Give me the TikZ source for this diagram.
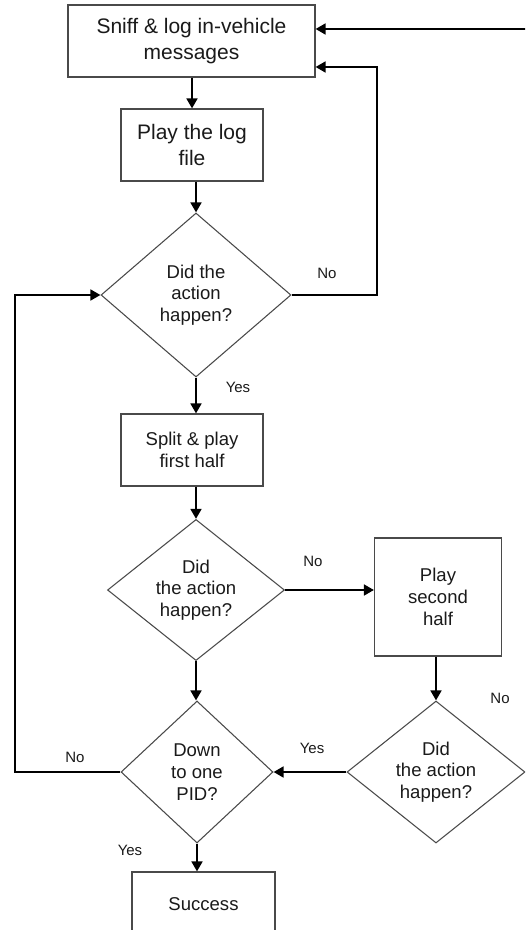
\documentclass[tikz,border=0pt]{standalone}
\usepackage{fontspec}
\setmainfont{Liberation Sans}
\usetikzlibrary{arrows.meta,shapes.geometric}
\definecolor{FlowInk}{HTML}{1A1A1A}
\definecolor{FlowEdge}{HTML}{4A4A4A}

\begin{document}
\begin{tikzpicture}[
    x=0.75pt, y=-0.75pt,
    stepbox/.style={
        draw=FlowEdge,
        line width=0.8pt,
        fill=white,
        align=center,
        text=FlowInk,
        inner sep=1pt,
        font=\fontsize{13.9}{16.3}\selectfont
    },
    big text/.style={font=\fontsize{15.75}{19.5}\selectfont},
    decision/.style={
        diamond,
        draw=FlowEdge,
        line width=0.8pt,
        fill=white,
        align=center,
        text=FlowInk,
        inner sep=0pt,
        font=\fontsize{13.9}{16.3}\selectfont
    },
    flow/.style={-{Triangle[length=7.5pt,width=8pt]},
                 draw=black, line width=1.9pt},
    answer/.style={font=\fontsize{11.25}{13}\selectfont, text=FlowInk}
]
    \path[use as bounding box, clip] (0,0) rectangle (525,930);

    % main column
    \node[stepbox, big text, minimum width=185.25pt, minimum height=54pt]
        (sniff) at (191.5,41) {Sniff \& log in-vehicle\\messages};
    \node[stepbox, big text, minimum width=106.5pt, minimum height=54pt]
        (replay) at (192,145) {Play the log\\file};
    \node[decision, minimum width=142.5pt, minimum height=123pt]
        (check1) at (196,295) {Did the\\action\\happen?};
    \node[stepbox, minimum width=106.5pt, minimum height=54pt]
        (firsthalf) at (192,450) {Split \& play\\first half};
    \node[decision, minimum width=132.75pt, minimum height=102.75pt]
        (check2) at (196,590) {Did\\the action\\happen?};
    \node[decision, minimum width=114pt, minimum height=106.5pt]
        (onepid) at (197,772) {Down\\to one\\PID?};
    \node[stepbox, minimum width=107.25pt, minimum height=48pt]
        (success) at (203.5,904) {Success};

    % right column
    \node[stepbox, minimum width=95.25pt, minimum height=88.5pt]
        (secondhalf) at (438,597) {Play\\second\\half};
    \node[decision, minimum width=133.5pt, minimum height=106.5pt]
        (check3) at (436,772) {Did\\the action\\happen?};

    \coordinate (leftrail) at (15,295);
    \coordinate (rightrail) at (377,67);
    \coordinate (outerrail) at (545,29);

    \draw[flow] (sniff.south -| replay.north) -- (replay.north);
    \draw[flow] (replay.south -| check1.north) -- (check1.north);
    \draw[flow] (check1.south) -- (check1.south |- firsthalf.north);
    \draw[flow] (firsthalf.south -| check2.north) -- (check2.north);
    \draw[flow] (check2.east) -- (check2.east -| secondhalf.west);
    \draw[flow] (check2.south) -- (check2.south |- onepid.north);
    \draw[flow] (secondhalf.south -| check3.north) -- (check3.north);
    \draw[flow] (check3.west) -- (onepid.east);
    \draw[flow] (onepid.south) -- (onepid.south |- success.north);

    \draw[flow] (check1.east) -| (rightrail) -- (sniff.east |- rightrail);
    \draw[flow] (onepid.west) -| (leftrail) -- (check1.west);
    \draw[flow] (check3.east) -| (outerrail) -- (sniff.east |- outerrail);

    \node[answer] (no1) at (327,273) {No};
    \node[answer] (yes1) at (238,387) {Yes};
    \node[answer] (no2) at (313,561) {No};
    \node[answer] (no3) at (500,698) {No};
    \node[answer] (yes3) at (312,748) {Yes};
    \node[answer] (no4) at (75,757) {No};
    \node[answer] (yes4) at (130,850) {Yes};
\end{tikzpicture}
\end{document}
